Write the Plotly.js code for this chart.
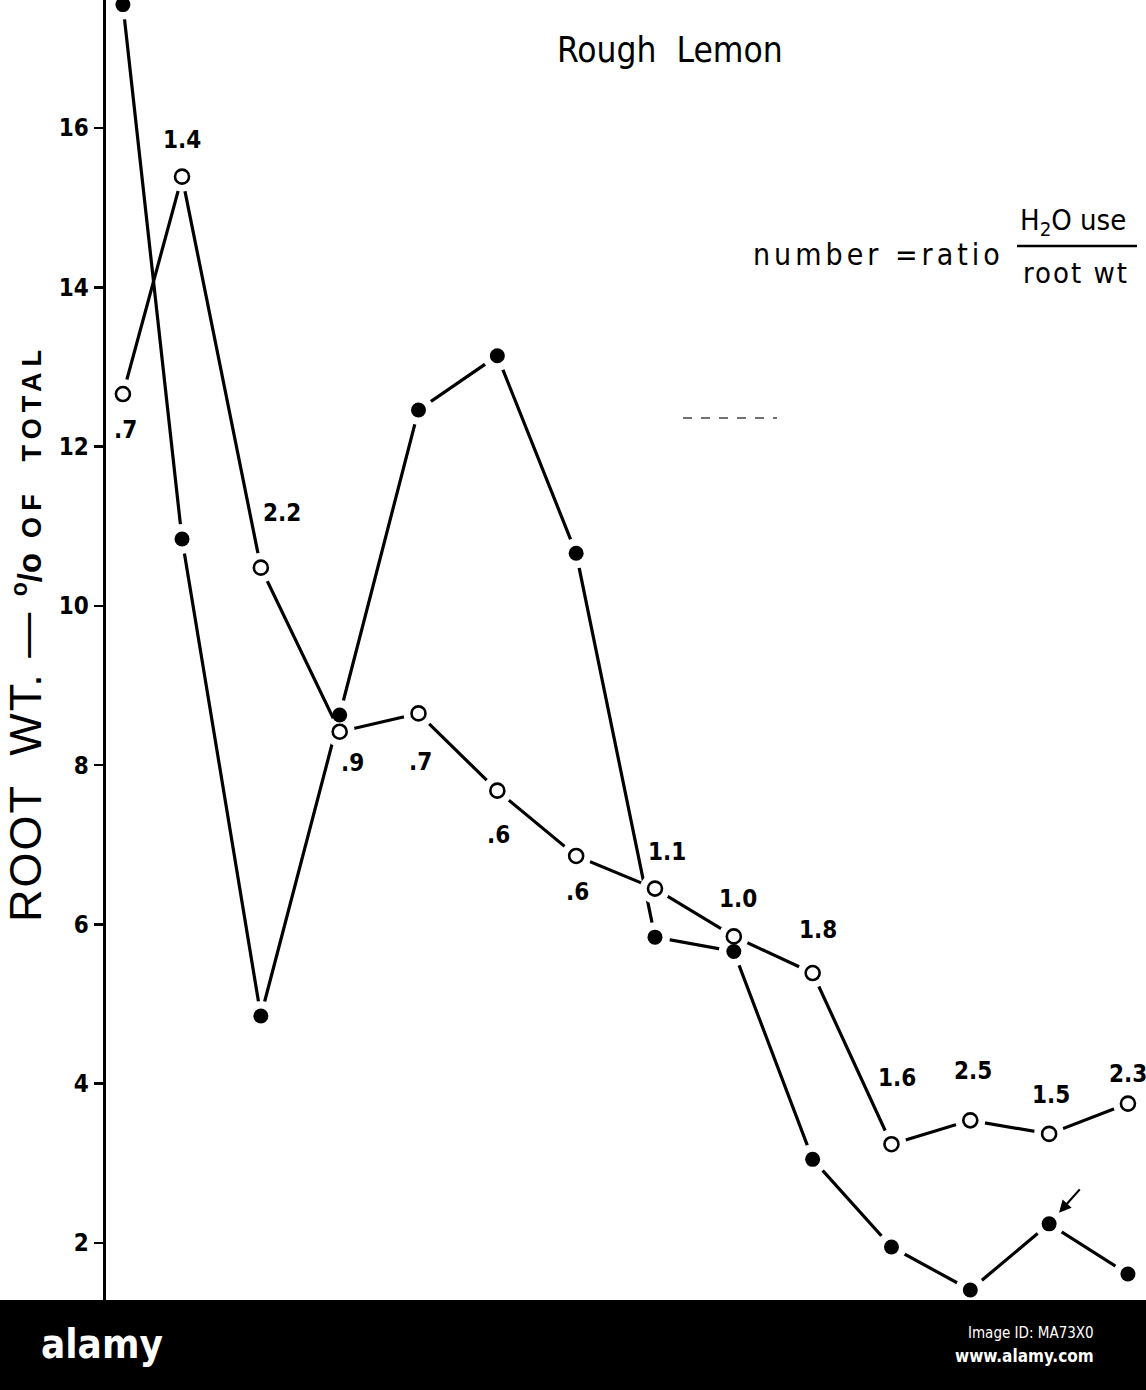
<!DOCTYPE html>
<html>
<head>
<meta charset="utf-8">
<script src="https://cdn.plot.ly/plotly-3.0.1.min.js"></script>
<style>
  html, body { margin: 0; padding: 0; background: #ffffff; }
  #chart { width: 1146px; height: 1390px; }
</style>
</head>
<body>
<div id="chart"></div>
<script>
// ---- data ----
const xPos = [0.25, 1, 2, 3, 4, 5, 6, 7, 8, 9, 10, 11, 12, 13];
const filledY = [17.55, 10.84, 4.85, 8.63, 12.46, 13.14, 10.66, 5.84, 5.66, 3.05, 1.95, 1.41, 2.24, 1.61];
const openY = [12.66, 15.39, 10.48, 8.42, 8.65, 7.68, 6.86, 6.45, 5.85, 5.39, 3.24, 3.54, 3.37, 3.75];
const ratioLabels = ['.7', '1.4', '2.2', '.9', '.7', '.6', '.6', '1.1', '1.0', '1.8', '1.6', '2.5', '1.5', '2.3'];
const yTicks = [2, 4, 6, 8, 10, 12, 14, 16];
const chartTitle = 'Rough  Lemon';
const yTitleMain = 'ROOT  WT. — ';
const yTitleTail = 'OF  TOTAL';
const arrowIndex = 12;

// ---- styling (label offsets in pixels, not data) ----
const labelDx = [3, 0, 21, 13, 2, 1, 1, 12, 4, 5, 6, 3, 2, 0];
const labelDy = [36, -37, -55, 31, 49, 44, 36, -37, -37, -43, -66, -49, -39, -30];

const FONT = '"DejaVu Sans Condensed", "DejaVu Sans", sans-serif';
const PLOT_L = 106, PLOT_W = 1040, PLOT_H = 1300, BOT = 90;
const px2x = p => (p - PLOT_L) / PLOT_W;
const py2y = p => (PLOT_H - p) / PLOT_H;

const traces = [
  // each series: its line, with big white markers on top that open gaps round the points
  { x: xPos, y: filledY, mode: 'lines+markers', line: { color: '#000', width: 3.2 },
    marker: { color: '#ffffff', size: 30, opacity: 1, line: { width: 0 } }, hoverinfo: 'skip', showlegend: false },
  { x: xPos, y: openY, mode: 'lines+markers', line: { color: '#000', width: 3.2 },
    marker: { color: '#ffffff', size: 30, opacity: 1, line: { width: 0 } }, hoverinfo: 'skip', showlegend: false },
  { x: xPos, y: filledY, mode: 'markers',
    marker: { symbol: 'circle', color: '#000', size: 15, opacity: 1, line: { width: 0 } }, hoverinfo: 'skip', showlegend: false },
  { x: xPos, y: openY, mode: 'markers',
    marker: { symbol: 'circle', color: '#fff', size: 14, opacity: 1, line: { color: '#000', width: 2.6 } }, hoverinfo: 'skip', showlegend: false }
];

const annotations = [];
ratioLabels.forEach((t, i) => {
  annotations.push({
    x: xPos[i], y: openY[i], xref: 'x', yref: 'y', text: '<b>' + t + '</b>', showarrow: false,
    xshift: labelDx[i], yshift: -labelDy[i],
    font: { family: FONT, size: 24, color: '#000' }
  });
});
annotations.push({
  x: xPos[arrowIndex], y: filledY[arrowIndex], xref: 'x', yref: 'y', text: '',
  showarrow: true, ax: 32, ay: -36, arrowhead: 2, arrowsize: 1.1, arrowwidth: 2.2,
  arrowcolor: '#000', standoff: 15
});
annotations.push({
  xref: 'paper', yref: 'paper', x: px2x(670), y: py2y(50), text: chartTitle, showarrow: false,
  font: { family: FONT, size: 35, color: '#000' }, xanchor: 'center', yanchor: 'middle'
});
annotations.push({
  xref: 'paper', yref: 'paper', x: px2x(1006), y: py2y(254), text: '<span style="letter-spacing:4px">number =ratio</span>', showarrow: false,
  font: { family: FONT, size: 30, color: '#000' }, xanchor: 'right', yanchor: 'middle'
});
annotations.push({
  xref: 'paper', yref: 'paper', x: px2x(1073), y: py2y(222), text: 'H<sub>2</sub>O use', showarrow: false,
  font: { family: FONT, size: 29, color: '#000' }, xanchor: 'center', yanchor: 'middle'
});
annotations.push({
  xref: 'paper', yref: 'paper', x: px2x(1076), y: py2y(273), text: '<span style="letter-spacing:2px">root wt</span>', showarrow: false,
  font: { family: FONT, size: 29, color: '#000' }, xanchor: 'center', yanchor: 'middle'
});
annotations.push({
  xref: 'paper', yref: 'paper', x: px2x(25), y: py2y(633), textangle: -90, showarrow: false,
  text: '<span style="font-size:45px;letter-spacing:2px">' + yTitleMain + '</span><b><span style="font-size:33px"><sup>o</sup>/o</span>  <span style="letter-spacing:6px">' + yTitleTail + '</span></b>',
  font: { family: '"Liberation Sans", Arial, sans-serif', size: 27, color: '#000' }, xanchor: 'center', yanchor: 'middle'
});
annotations.push({
  xref: 'paper', yref: 'paper', x: px2x(102), y: py2y(1344), text: '<b>alamy</b>', showarrow: false,
  font: { family: FONT, size: 40, color: '#fff' }, xanchor: 'center', yanchor: 'middle'
});
annotations.push({
  xref: 'paper', yref: 'paper', x: px2x(1096), y: py2y(1333), text: 'Image ID: MA73X0', showarrow: false,
  font: { family: FONT, size: 15, color: '#fff' }, xanchor: 'right', yanchor: 'middle'
});
annotations.push({
  xref: 'paper', yref: 'paper', x: px2x(1096), y: py2y(1356), text: '<b>www.alamy.com</b>', showarrow: false,
  font: { family: FONT, size: 17, color: '#fff' }, xanchor: 'right', yanchor: 'middle'
});

const shapes = [
  { type: 'line', xref: 'paper', yref: 'paper', x0: px2x(1017), x1: px2x(1137), y0: py2y(246), y1: py2y(246),
    line: { color: '#000', width: 2.5 } },
  { type: 'line', xref: 'paper', yref: 'paper', x0: px2x(683), x1: px2x(777), y0: py2y(418), y1: py2y(418),
    line: { color: '#444', width: 1.5, dash: 'dash' } },
  { type: 'rect', xref: 'paper', yref: 'paper', x0: px2x(0), x1: px2x(1146), y0: py2y(1390), y1: py2y(1300),
    fillcolor: '#000', line: { width: 0 }, layer: 'above' }
];

const layout = {
  width: 1146, height: 1390,
  margin: { l: PLOT_L, r: 0, t: 0, b: BOT, pad: 0 },
  paper_bgcolor: '#fff', plot_bgcolor: '#fff',
  font: { family: FONT, color: '#000' },
  showlegend: false,
  xaxis: { visible: false, range: [0.0355, 13.229], fixedrange: true },
  yaxis: {
    range: [1.284, 17.608], tickvals: yTicks, ticktext: yTicks.map(v => '<b>' + v + '</b>'),
    showline: true, linecolor: '#000', linewidth: 3.5, mirror: false,
    ticks: 'outside', ticklen: 9, tickwidth: 2.5, tickcolor: '#000',
    showgrid: false, zeroline: false,
    tickfont: { family: FONT, size: 24, color: '#000' }
  },
  annotations: annotations,
  shapes: shapes
};

Plotly.newPlot('chart', traces, layout, { staticPlot: true, displayModeBar: false });
</script>
</body>
</html>
